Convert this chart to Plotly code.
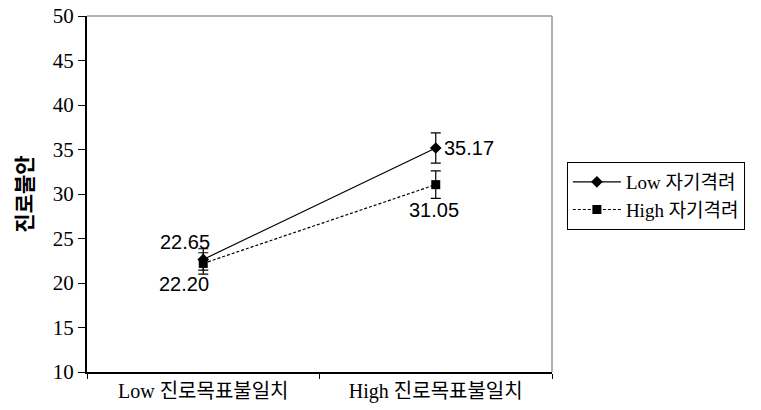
import plotly.graph_objects as go

# Career goal discrepancy (x) by self-encouragement level (series)
categories = ["Low 진로목표불일치", "High 진로목표불일치"]
low_enc = [22.65, 35.17]
high_enc = [22.20, 31.05]
low_err = [1.2, 1.7]
high_err = [1.2, 1.55]
series_names = ["Low 자기격려", "High 자기격려"]
y_ticks = [10, 15, 20, 25, 30, 35, 40, 45, 50]

serif = "Liberation Serif, Noto Sans CJK KR, serif"
sans = "Liberation Sans, Noto Sans CJK KR, sans-serif"

fig = go.Figure()
fig.add_trace(go.Scatter(
    x=categories, y=low_enc, name=series_names[0], mode="lines+markers",
    line=dict(color="black", width=1.2),
    marker=dict(symbol="diamond", size=9, color="black"),
    error_y=dict(type="data", array=low_err, color="black", thickness=1.2, width=5),
))
fig.add_trace(go.Scatter(
    x=categories, y=high_enc, name=series_names[1], mode="lines+markers",
    line=dict(color="black", width=1.2, dash="3px,2px"),
    marker=dict(symbol="square", size=9, color="black"),
    error_y=dict(type="data", array=high_err, color="black", thickness=1.2, width=5),
))

# value labels
label_offsets_low = [(-18, 17), (33, 0)]
label_offsets_high = [(-19, -21), (-2, -25)]
for vals, offs in ((low_enc, label_offsets_low), (high_enc, label_offsets_high)):
    for cat, v, (dx, dy) in zip(categories, vals, offs):
        fig.add_annotation(x=cat, y=v, text=f"{v:.2f}", showarrow=False,
                           xshift=dx, yshift=dy,
                           font=dict(family=sans, size=20, color="black"))

# gray top/right frame
fig.add_shape(type="line", xref="paper", yref="paper", x0=0, x1=1, y0=1, y1=1,
              line=dict(color="#999999", width=1.5))
fig.add_shape(type="line", xref="paper", yref="paper", x0=1, x1=1, y0=0, y1=1,
              line=dict(color="#999999", width=1.5))

fig.update_layout(
    width=761, height=410,
    margin=dict(l=87, r=209, t=16, b=38, autoexpand=False),
    paper_bgcolor="white", plot_bgcolor="white",
    showlegend=True,
    legend=dict(x=1.032, y=0.59, xanchor="left", yanchor="top",
                bordercolor="black", borderwidth=1,
                font=dict(family=serif, size=19, color="black"),
                tracegroupgap=2, itemwidth=48),
    xaxis=dict(type="category", range=[-0.5, 1.5], tickson="boundaries",
               automargin=False,
               ticks="outside", ticklen=5, tickcolor="black",
               showline=True, linecolor="black", linewidth=2,
               showgrid=False, zeroline=False,
               tickfont=dict(family=serif, size=20, color="black")),
    yaxis=dict(range=[10, 50], tickvals=y_ticks, ticks="outside", ticklen=7,
               automargin=False,
               tickcolor="black", showline=True, linecolor="black", linewidth=2,
               showgrid=False, zeroline=False,
               tickfont=dict(family=serif, size=21, color="black"),
               title=dict(text="<b>진로불안</b>", standoff=14,
                          font=dict(family=sans, size=21, color="black"))),
)

fig.write_html("out.html")
